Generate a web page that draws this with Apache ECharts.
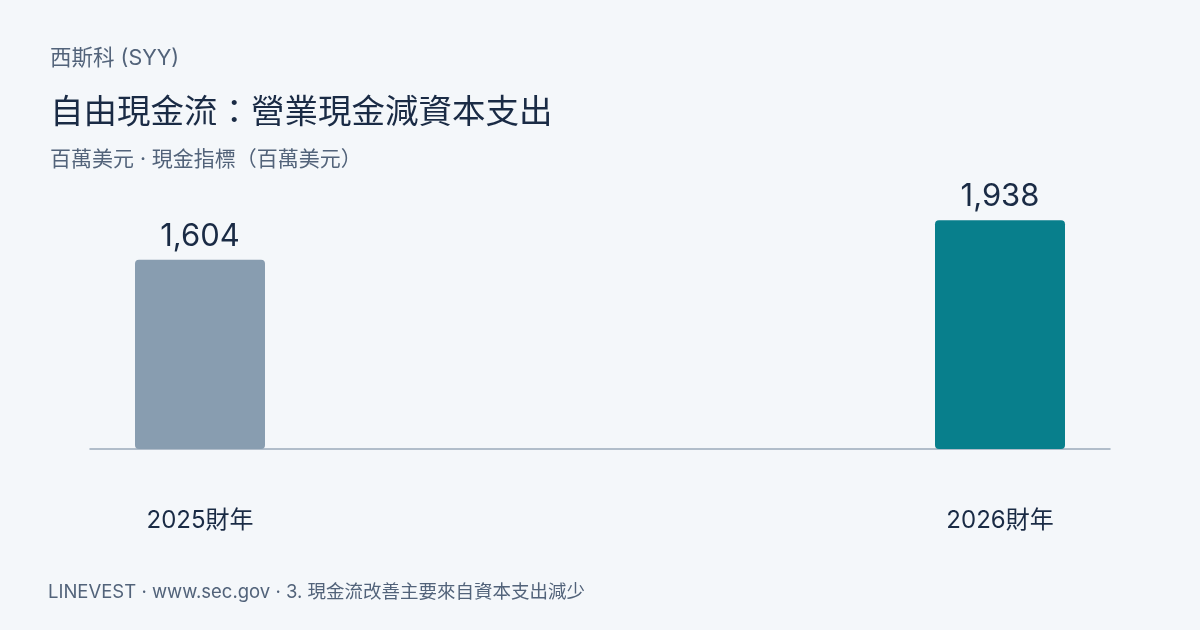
<!DOCTYPE html>
<html>
<head>
<meta charset="utf-8">
<script src="https://cdn.jsdelivr.net/npm/echarts@6/dist/echarts.min.js"></script>
<style>
html,body{margin:0;padding:0;background:#f4f7fa;}
#chart{width:1200px;height:630px;}
</style>
</head>
<body>
<div id="chart"></div>
<script>
const categories = ['2025財年', '2026財年'];
const values = [1604, 1938];
const barColors = ['#889db0', '#087f8c'];

const FONT = "Inter, 'Noto Sans CJK TC', sans-serif";
const chart = echarts.init(document.getElementById('chart'));
chart.setOption({
  backgroundColor: '#f4f7fa',
  textStyle: { fontFamily: FONT },
  title: [
    { text: '西斯科 (SYY)', left: 50, top: 48, padding: 0, textStyle: { fontFamily: FONT, fontSize: 21.5, fontWeight: 'normal', color: '#52637a' } },
    { text: '自由現金流：營業現金減資本支出', left: 50, top: 96, padding: 0, textStyle: { fontFamily: FONT, fontSize: 33.5, fontWeight: 'normal', color: '#1a2b45' } },
    { text: '百萬美元 · 現金指標（百萬美元）', left: 50, top: 149, padding: 0, textStyle: { fontFamily: FONT, fontSize: 21, fontWeight: 'normal', color: '#52637a' } },
    { text: 'LINEVEST · www.sec.gov · 3. 現金流改善主要來自資本支出減少', left: 48, top: 583, padding: 0, textStyle: { fontFamily: FONT, fontSize: 18.5, fontWeight: 'normal', color: '#52637a' } }
  ],
  grid: { left: 90, right: 90, top: 213, bottom: 181 },
  xAxis: {
    type: 'value',
    min: -0.1375,
    max: 1.1375,
    splitLine: { show: false },
    axisTick: { show: false },
    axisLine: { show: true, onZero: false, lineStyle: { color: '#9aabbb', width: 1.5 } },
    axisLabel: {
      customValues: [0, 1],
      formatter: v => categories[Math.round(v)] || '',
      margin: 60,
      fontSize: 24,
      color: '#1a2b45',
      fontFamily: FONT
    }
  },
  yAxis: {
    type: 'value',
    min: 0,
    max: 2000,
    show: false
  },
  series: [{
    type: 'bar',
    barWidth: 130,
    data: values.map((v, i) => ({ value: [i, v], itemStyle: { color: barColors[i], borderRadius: 4 } })),
    label: {
      show: true,
      position: 'top',
      distance: 8,
      fontSize: 31,
      color: '#1a2b45',
      fontFamily: FONT,
      formatter: p => p.value[1].toLocaleString('en-US')
    }
  }]
});
</script>
</body>
</html>
